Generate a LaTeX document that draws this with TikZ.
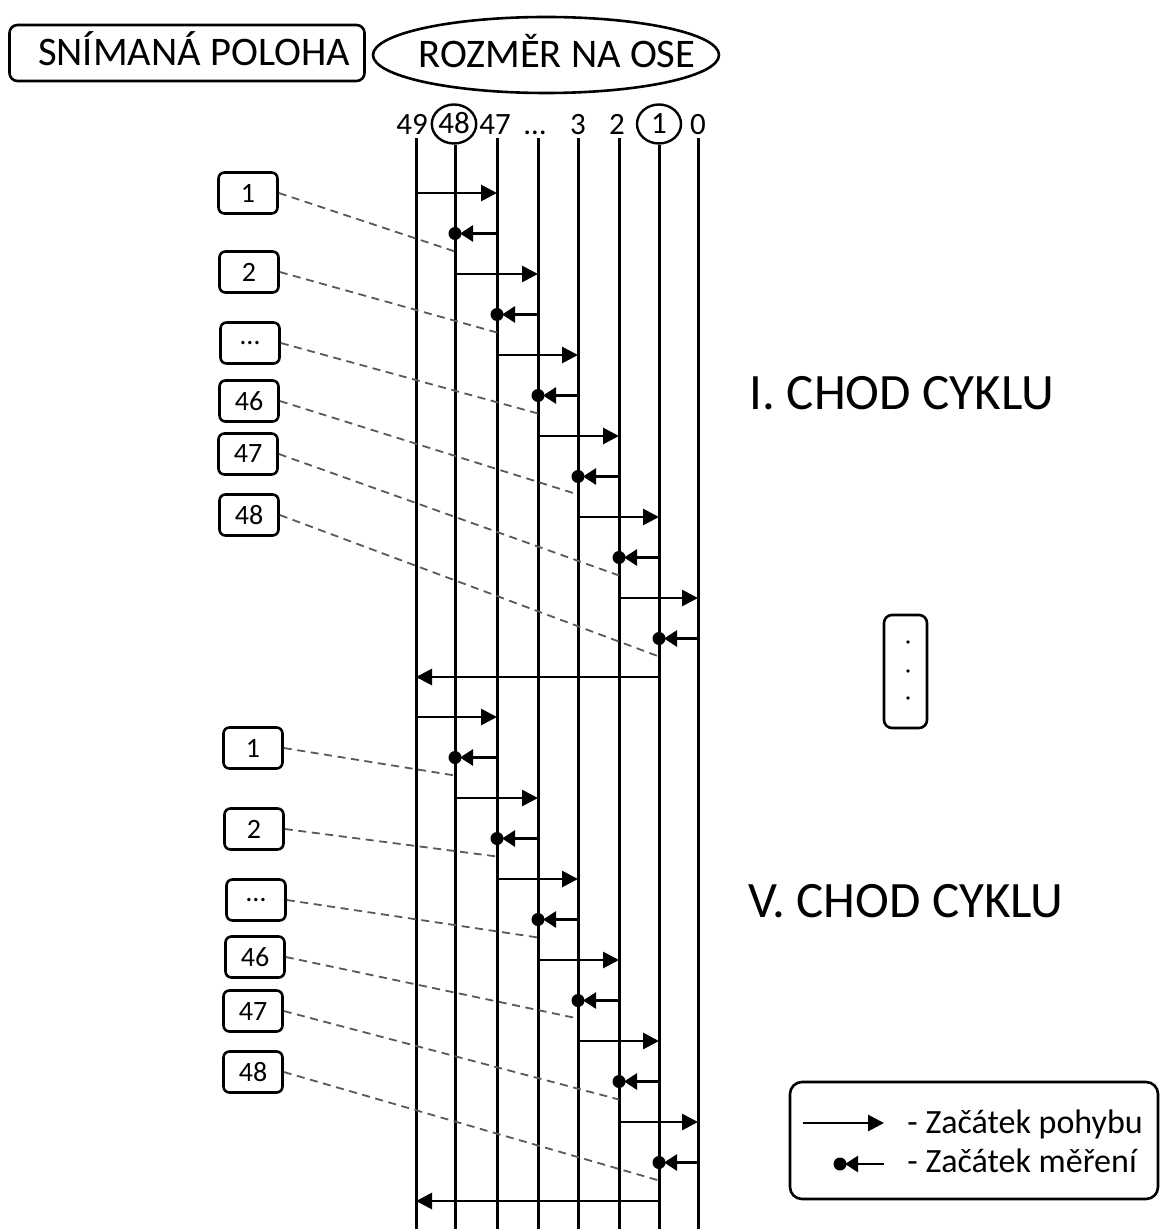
\documentclass[tikz,border=0pt]{standalone}
\usepackage{fontspec}
\setmainfont{Carlito}
\usetikzlibrary{
  arrows.meta,
  positioning,
  calc,
  shapes.geometric
}
\tikzset{
  headbox/.style={
    draw,
    rounded corners=4pt,
    line width=1.3pt,
    minimum width=177.5pt,
    minimum height=28pt,
    text height=13pt,
    text depth=0pt,
    font=\fontsize{20.3}{24}\selectfont
  },
  headoval/.style={
    draw,
    ellipse,
    line width=1.3pt,
    minimum width=173pt,
    minimum height=38pt,
    inner xsep=-18pt,
    inner ysep=-2pt,
    text height=13pt,
    text depth=0pt,
    font=\fontsize{20.3}{24}\selectfont
  },
  axnum/.style={
    font=\fontsize{15.5}{18}\selectfont,
    text height=10pt,
    text depth=0pt,
    inner sep=1.5pt,
    anchor=base
  },
  axmark/.style={
    axnum,
    draw,
    ellipse,
    line width=1.2pt,
    minimum width=22pt,
    minimum height=19.5pt,
    inner sep=0pt
  },
  axline/.style={line width=1.5pt},
  posbox/.style={
    draw,
    rounded corners=3pt,
    line width=1.3pt,
    minimum width=29.5pt,
    minimum height=20.5pt,
    inner sep=0pt,
    font=\fontsize{14}{16}\selectfont
  },
  move/.style={
    line width=1.4pt,
    -{Triangle[length=8pt,width=8pt]}
  },
  meas/.style={
    line width=1.4pt,
    -{Triangle[length=6.5pt,width=8pt]},
    shorten >=2.5pt
  },
  measdot/.style={circle, fill, inner sep=0pt, minimum size=6.5pt},
  link/.style={
    dash pattern=on 4pt off 2.8pt,
    line width=0.9pt,
    draw=black!65
  },
  cyclename/.style={font=\fontsize{25.5}{30}\selectfont},
  legtext/.style={font=\fontsize{17}{20}\selectfont, inner sep=0pt, anchor=base west}
}

\begin{document}
\begin{tikzpicture}[x=0.5pt, y=-0.5pt]
  \useasboundingbox (0,0) rectangle (1163,1229);

  % header
  \node[headbox] (scanned) at (187,53) {\hspace*{7pt}SNÍMANÁ POLOHA};
  \node[headoval] (axsize) at (546,55) {\hspace*{11pt}ROZMĚR NA OSE};

  % axis positions 49 ... 0
  \node[axnum] (ax0) at (412,135) {49};
  \node[axmark] (ax1) at (454,134) {48};
  \node[axnum] (ax2) at (495,135) {47};
  \node[axnum] (ax3) at (535,135) {…};
  \node[axnum] (ax4) at (578,135) {3};
  \node[axnum] (ax5) at (617,135) {2};
  \node[axmark] (ax6) at (659,134) {1};
  \node[axnum] (ax7) at (698,135) {0};

  \foreach \i/\x in {0/416,1/455,2/497,3/538,4/578,5/619,6/659,7/698} {
    \coordinate (c\i) at (\x,1229);
    \draw[axline] (c\i |- ax\i.south) -- (c\i);
  }

  % moves and measurements, two passes
  \foreach \cyc/\top in {I/193,V/717} {
    \foreach \k/\m/\b in {0/1/2,1/2/3,2/3/4,3/4/5,4/5/6,5/6/7} {
      \coordinate (go\cyc\k) at (0,\top+81*\k);
      \coordinate (back\cyc\k) at (0,\top+40.5+81*\k);
      \node[measdot] (d\cyc\k) at (c\m |- back\cyc\k) {};
      \coordinate (hit\cyc\k) at ($(d\cyc\k.center)+(0,18)$);
      \draw[move] (c\k |- go\cyc\k) -- (c\b |- go\cyc\k);
      \draw[meas] (c\b |- back\cyc\k) -- (d\cyc\k.center);
    }
    \coordinate (ret\cyc) at (0,\top+484);
    \draw[move] (c6 |- ret\cyc) -- (c0 |- ret\cyc);
  }

  % scanned positions
  \foreach \k/\x/\y/\t in {0/248/193/1, 1/249/272/2, 2/250/343/…,
                           3/249/401/46, 4/248/454/47, 5/249/515/48}
    \node[posbox] (pI\k) at (\x,\y) {\t};
  \foreach \k/\x/\y/\t in {0/253/748/1, 1/254/829/2, 2/256/900/…,
                           3/255/957/46, 4/253/1011/47, 5/253/1072/48}
    \node[posbox] (pV\k) at (\x,\y) {\t};

  \foreach \cyc in {I,V} {
    \foreach \k in {0,...,5}
      \draw[link] (p\cyc\k.east) -- (hit\cyc\k);
  }

  \node[cyclename] (firstrun) at (902,393) {I. CHOD CYKLU};
  \node[cyclename] (fifthrun) at (906,901) {V. CHOD CYKLU};

  % skipped passes
  \node[draw, rounded corners=4pt, line width=1.3pt,
        minimum width=21.5pt, minimum height=56.5pt] (skip) at (905.5,671.5) {};
  \foreach \y in {642,671,698}
    \fill (908,\y) circle (0.9pt);

  % legend
  \node[draw, rounded corners=6pt, line width=1.3pt,
        minimum width=184pt, minimum height=58.5pt] (legend) at (974,1140.5) {};
  \node[legtext] (lgmove) at (907,1133) {- Začátek pohybu};
  \node[legtext] (lgmeas) at (907,1172) {- Začátek měření};
  \coordinate (lgmoveA) at (803,1123);
  \coordinate (lgmoveB) at (884,1123);
  \coordinate (lgmeasA) at (884,1164);
  \node[measdot] (lgdot) at (840,1164) {};
  \draw[move] (lgmoveA) -- (lgmoveB);
  \draw[meas] (lgmeasA) -- (lgdot.center);
\end{tikzpicture}
\end{document}
